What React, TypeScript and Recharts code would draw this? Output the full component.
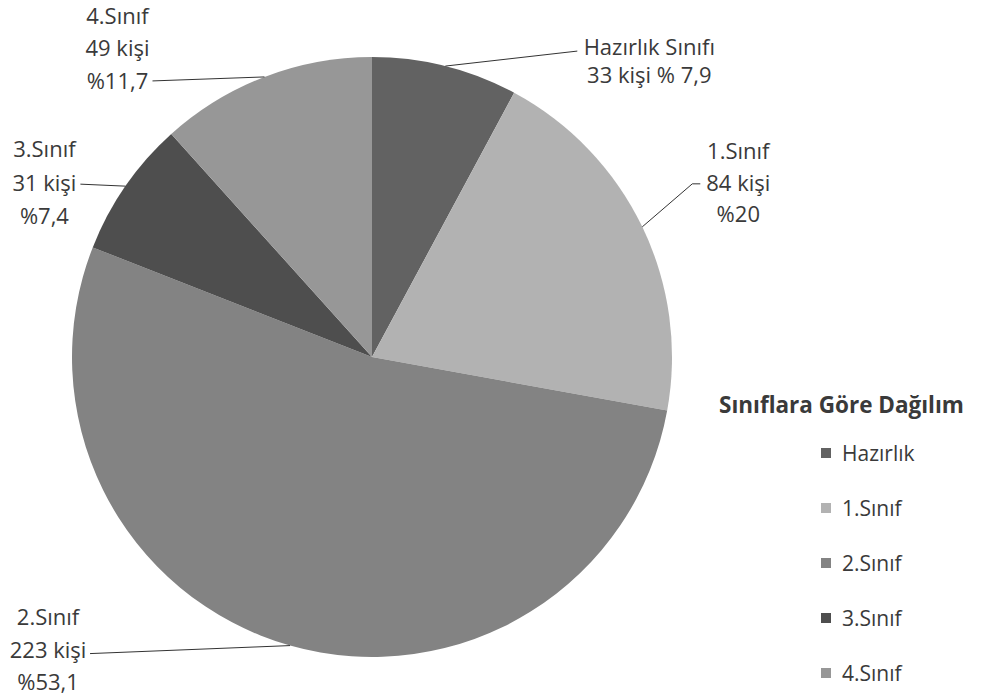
import { PieChart, Pie, Cell, Legend } from 'recharts';

const categories = ['Hazırlık', '1.Sınıf', '2.Sınıf', '3.Sınıf', '4.Sınıf'];
const labelNames = ['Hazırlık Sınıfı', '1.Sınıf', '2.Sınıf', '3.Sınıf', '4.Sınıf'];
const counts = [33, 84, 223, 31, 49];
const percents = ['7,9', '20', '53,1', '7,4', '11,7'];
const colors = ['#626262', '#b2b2b2', '#838383', '#4e4e4e', '#979797'];

const chartData = categories.map((name, i) => ({
  name,
  value: counts[i],
}));

const FONT = '"Open Sans", Lato, sans-serif';
const TEXT = '#3a3a3a';
const RADIAN = Math.PI / 180;

// leader line end (relative to slice edge) and text lines (relative to line end)
const labelLayout = [
  { end: [132, -15], elbow: null, tx: 72, ty: [-5, 23] },
  { end: [58, -43], elbow: [50, -43], tx: 38, ty: [-34, -2, 29] },
  { end: [-200, 8], elbow: null, tx: -42, ty: [-38, -5, 27] },
  { end: [-45, -2], elbow: null, tx: -36, ty: [-36, -2, 31] },
  { end: [-112, 4], elbow: null, tx: -35, ty: [-66, -34, -1] },
];

function labelLines(i: number): string[] {
  if (i === 0) return [labelNames[0], `${counts[0]} kişi % ${percents[0]}`];
  return [labelNames[i], `${counts[i]} kişi`, `%${percents[i]}`];
}

function SliceLabel(props: any) {
  const { cx, cy, midAngle, outerRadius, index } = props;
  const ex = cx + outerRadius * Math.cos(-midAngle * RADIAN);
  const ey = cy + outerRadius * Math.sin(-midAngle * RADIAN);
  const lay = labelLayout[index];
  const lx = ex + lay.end[0];
  const ly = ey + lay.end[1];
  const pts = lay.elbow
    ? `${ex},${ey} ${ex + lay.elbow[0]},${ey + lay.elbow[1]} ${lx},${ly}`
    : `${ex},${ey} ${lx},${ly}`;
  const lines = labelLines(index);
  return (
    <g>
      <polyline points={pts} fill="none" stroke="#333" strokeWidth={1} />
      {lines.map((t, k) => (
        <text
          key={k}
          x={lx + lay.tx}
          y={ly + lay.ty[k]}
          textAnchor="middle"
          dominantBaseline="central"
          fontFamily={FONT}
          fontSize={22}
          fill={TEXT}
        >
          {t}
        </text>
      ))}
    </g>
  );
}

function LegendBox() {
  return (
    <div style={{ fontFamily: FONT, color: TEXT }}>
      <div style={{ fontWeight: 700, fontSize: 22.5, height: 40, lineHeight: '40px', whiteSpace: 'nowrap' }}>
        Sınıflara Göre Dağılım
      </div>
      {categories.map((c, i) => (
        <div
          key={c}
          style={{ display: 'flex', alignItems: 'center', height: 55, marginLeft: 102, fontSize: 21 }}
        >
          <span style={{ width: 10, height: 10, background: colors[i], marginRight: 11, display: 'inline-block' }} />
          <span>{c}</span>
        </div>
      ))}
    </div>
  );
}

export default function App() {
  return (
    <div style={{ position: 'absolute', left: 0, top: 0, background: '#fff' }}>
      <PieChart width={983} height={695} margin={{ top: 0, right: 0, bottom: 0, left: 0 }}>
        <Pie
          data={chartData}
          dataKey="value"
          nameKey="name"
          cx={372}
          cy={357}
          outerRadius={300}
          startAngle={90}
          endAngle={-270}
          stroke="none"
          label={SliceLabel}
          labelLine={false}
          isAnimationActive={false}
        >
          {chartData.map((d, i) => (
            <Cell key={d.name} fill={colors[i]} />
          ))}
        </Pie>
        <Legend
          content={() => <LegendBox />}
          wrapperStyle={{ position: 'absolute', left: 719, top: 385, width: 264 }}
        />
      </PieChart>
    </div>
  );
}
